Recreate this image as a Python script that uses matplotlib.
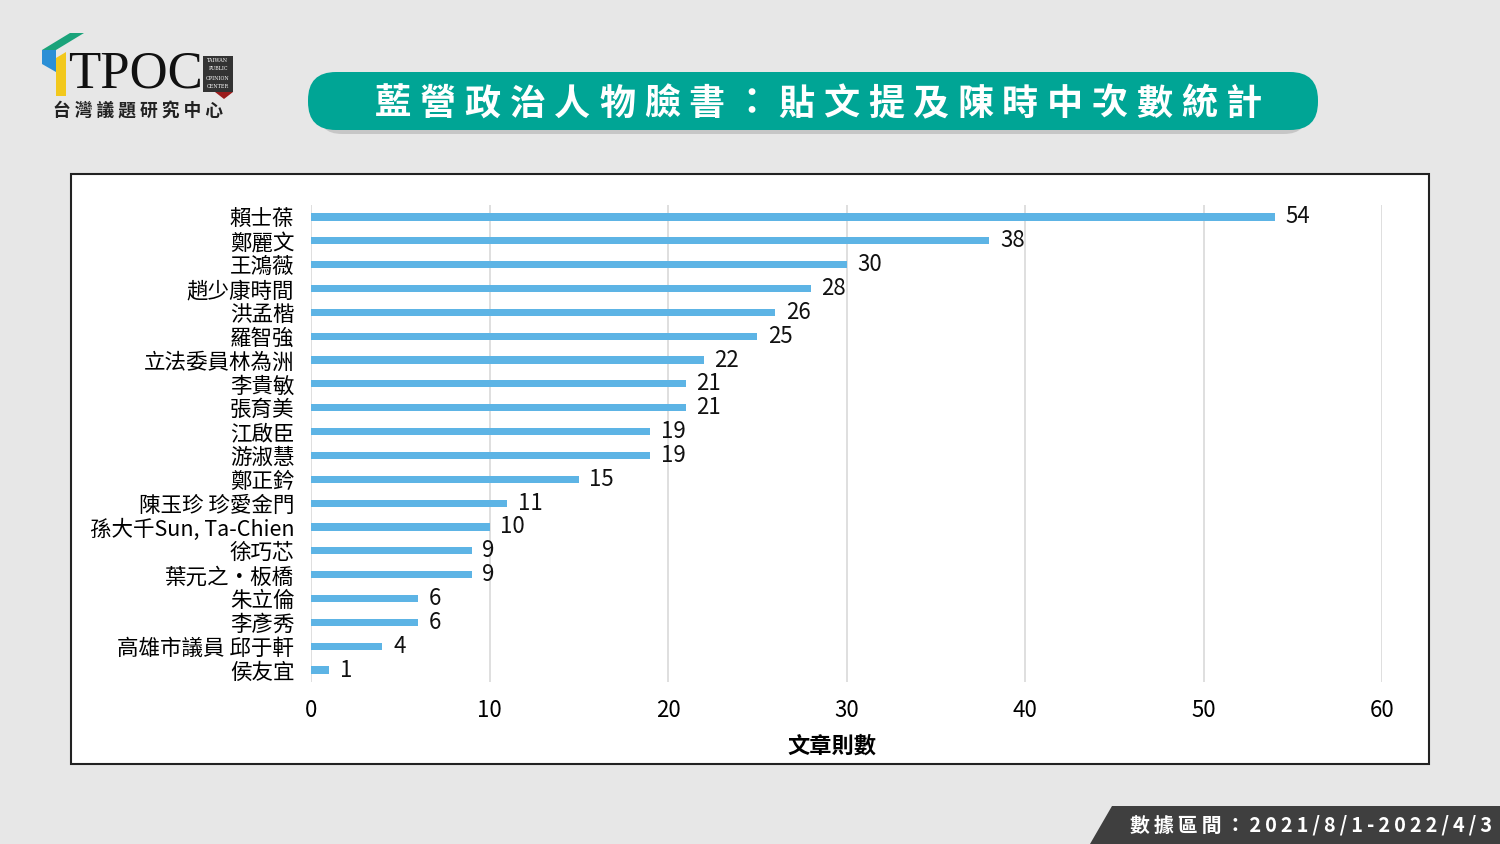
import matplotlib.pyplot as plt
from matplotlib.patches import FancyBboxPatch, Rectangle, Polygon

plt.rcParams['font.family'] = ['Noto Sans CJK TC', 'DejaVu Sans']

# 資料
names = ['賴士葆', '鄭麗文', '王鴻薇', '趙少康時間', '洪孟楷', '羅智強', '立法委員林為洲',
         '李貴敏', '張育美', '江啟臣', '游淑慧', '鄭正鈐', '陳玉珍 珍愛金門',
         '孫大千Sun, Ta-Chien', '徐巧芯', '葉元之・板橋', '朱立倫', '李彥秀',
         '高雄市議員 邱于軒', '侯友宜']
counts = [54, 38, 30, 28, 26, 25, 22, 21, 21, 19, 19, 15, 11, 10, 9, 9, 6, 6, 4, 1]
xticks = [0, 10, 20, 30, 40, 50, 60]
title = '藍營政治人物臉書：貼文提及陳時中次數統計'
period = '數據區間：2021/8/1-2022/4/3'

W, H = 1500, 844
fig = plt.figure(figsize=(15, 8.44), dpi=100)
fig.patch.set_facecolor('#e7e7e7')

# 背景層 (像素座標)
bg = fig.add_axes([0, 0, 1, 1])
bg.set_xlim(0, W)
bg.set_ylim(H, 0)
bg.axis('off')

# 圖表白框
bg.add_patch(Rectangle((71, 174), 1358, 590, facecolor='white', edgecolor='#222222', lw=1.5))

# 標題框 + 陰影
bg.add_patch(FancyBboxPatch((318, 82), 990, 52, boxstyle='round,pad=0,rounding_size=24',
                            facecolor='#b9b9b9', edgecolor='none', alpha=0.7))
bg.add_patch(FancyBboxPatch((308, 72), 1010, 58, boxstyle='round,pad=0,rounding_size=28',
                            facecolor='#00a595', edgecolor='none'))
x0, step = 393, 44.8
for i, ch in enumerate(title):
    bg.text(x0 + i * step, 104, ch, color='white', fontsize=26, fontweight='bold',
            ha='center', va='center')

# 商標
bg.add_patch(Polygon([[42, 50], [70, 33], [84, 33], [56, 50]], closed=True, facecolor='#1aa37a'))
bg.add_patch(Polygon([[42, 50], [56, 50], [56, 72], [42, 64]], closed=True, facecolor='#2b8fd6'))
bg.add_patch(Polygon([[56, 58], [66, 52], [66, 96], [56, 96]], closed=True, facecolor='#f2c81c'))
bg.text(68, 74, 'TPOC', fontsize=38, family='Liberation Serif', ha='left', va='center',
        color='#111111')
bg.add_patch(Rectangle((203, 56), 30, 36, facecolor='#333333'))
bg.add_patch(Polygon([[215, 92], [233, 92], [224, 99]], closed=True, facecolor='#9b1c1c'))
for j, w in enumerate(['TAIWAN', 'PUBLIC', 'OPINION', 'CENTER']):
    bg.text(218, 60 + j * 9, w, fontsize=3.5, color='white', ha='center', va='center',
            family='DejaVu Serif')
bg.text(53, 112, '台 灣 議 題 研 究 中 心', fontsize=12.8, fontweight='bold', ha='left',
        va='center', color='#222222')

# 右下角資料區間
bg.add_patch(Polygon([[1112, 806], [W, 806], [W, H], [1090, H]], closed=True, facecolor='#3f3f3f'))
bg.text(1492, 825, '\u2009'.join(period), color='white', fontsize=14.3, fontweight='bold',
        ha='right', va='center')

# 長條圖
ax = fig.add_axes([311 / W, 1 - 682 / H, (1382 - 311) / W, (682 - 205) / H])
ax.set_facecolor('none')
ypos = list(range(len(names)))
ax.barh(ypos, counts, height=0.3, color='#5db4e5', zorder=2)
for y, v in zip(ypos, counts):
    ax.text(v + 0.6, y, str(v), fontsize=16, ha='left', va='center', color='#111111')
ax.set_yticks(ypos)
ax.set_yticklabels(names, fontsize=15.5)
ax.set_ylim(len(names) - 0.5, -0.5)
ax.set_xlim(0, 60)
ax.set_xticks(xticks)
ax.tick_params(axis='x', labelsize=16, length=0, pad=12)
ax.tick_params(axis='y', length=0, pad=12)
ax.grid(axis='x', color='#d9d9d9', lw=1.2, zorder=0)
for s in ax.spines.values():
    s.set_visible(False)
ax.set_xlabel('文章則數', fontsize=16, fontweight='bold', labelpad=8)
ax.xaxis.set_label_coords((832 - 311) / (1382 - 311), -0.11)

fig.savefig('out.png', dpi=100, facecolor=fig.get_facecolor())
